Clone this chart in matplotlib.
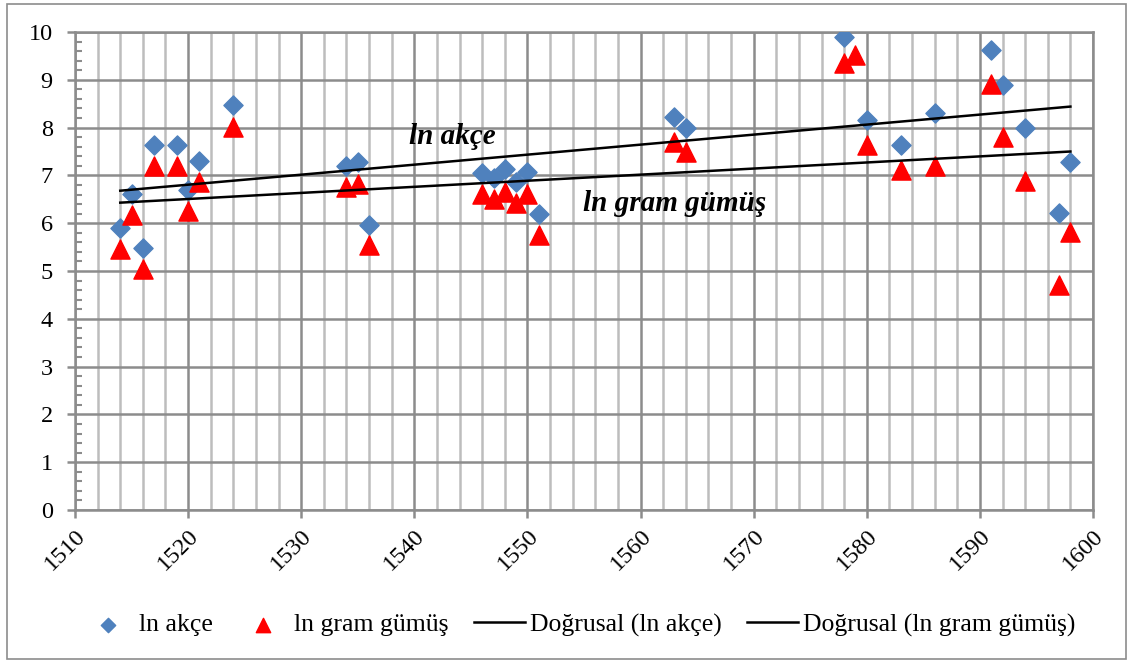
import numpy as np
import matplotlib
matplotlib.use('Agg')
import matplotlib.pyplot as plt
from matplotlib.ticker import MultipleLocator

plt.rcParams['font.family'] = ['Liberation Serif', 'DejaVu Serif']

# years and values
yil_akce = [1514, 1515, 1516, 1517, 1519, 1520, 1521, 1524, 1534, 1535, 1536,
            1546, 1547, 1548, 1549, 1550, 1551, 1563, 1564, 1578, 1580, 1583,
            1586, 1591, 1592, 1594, 1597, 1598]
ln_akce = [5.90, 6.61, 5.48, 7.64, 7.64, 6.70, 7.30, 8.47, 7.20, 7.28, 5.96,
           7.06, 6.95, 7.13, 6.87, 7.08, 6.19, 8.23, 8.00, 9.89, 8.15, 7.64,
           8.31, 9.62, 8.89, 8.00, 6.21, 7.29]

yil_gumus = [1514, 1515, 1516, 1517, 1519, 1520, 1521, 1524, 1534, 1535, 1536,
             1546, 1547, 1548, 1549, 1550, 1551, 1563, 1564, 1578, 1579, 1580,
             1583, 1586, 1591, 1592, 1594, 1597, 1598]
ln_gumus = [5.47, 6.17, 5.04, 7.20, 7.20, 6.26, 6.87, 8.02, 6.76, 6.82, 5.54,
            6.62, 6.50, 6.66, 6.43, 6.62, 5.75, 7.69, 7.48, 9.36, 9.52, 7.64,
            7.11, 7.20, 8.91, 7.80, 6.89, 4.71, 5.81]

# linear trendlines (end values)
trend_yil = [1514, 1598]
trend_akce = [6.68, 8.44]
trend_gumus = [6.43, 7.50]

fig = plt.figure(figsize=(11.33, 6.63), dpi=100)
ax = fig.add_axes([0.0662, 0.2308, 0.8985, 0.7209])

# grid
ax.xaxis.set_major_locator(MultipleLocator(10))
ax.xaxis.set_minor_locator(MultipleLocator(2))
ax.yaxis.set_major_locator(MultipleLocator(1))
ax.yaxis.set_minor_locator(MultipleLocator(0.2))
ax.grid(which='major', axis='both', color='#8c8c8c', lw=1.8, zorder=0)
ax.grid(which='minor', axis='x', color='#bdbdbd', lw=1.8, zorder=0)
ax.set_axisbelow(True)

ax.scatter(yil_akce, ln_akce, marker='D', s=95, color='#4F81BD', zorder=3,
           label='ln akçe')
ax.scatter(yil_gumus, ln_gumus, marker='^', s=190, color='#FF0000', zorder=4,
           label='ln gram gümüş')

ax.plot(trend_yil, trend_akce, color='black', lw=1.8, zorder=5,
        label='Doğrusal (ln akçe)')
ax.plot(trend_yil, trend_gumus, color='black', lw=1.8, zorder=5,
        label='Doğrusal (ln gram gümüş)')

ax.text(1543.4, 7.82, 'ln akçe', fontsize=21, fontweight='bold', style='italic',
        ha='center', va='center', zorder=6)
ax.text(1563.0, 6.42, 'ln gram gümüş', fontsize=21, fontweight='bold',
        style='italic', ha='center', va='center', zorder=6)

ax.set_xlim(1510, 1600)
ax.set_ylim(0, 10)
for s in ax.spines.values():
    s.set_color('#8c8c8c')
    s.set_linewidth(1.8)
ax.tick_params(axis='both', which='major', labelsize=17.5, color='#8c8c8c',
               width=1.8, length=6, direction='out')
ax.tick_params(axis='y', which='major', pad=10)
ax.tick_params(axis='x', which='major', pad=5)
ax.tick_params(axis='y', which='minor', color='#8c8c8c', width=1.5, length=5,
               direction='in')
ax.tick_params(axis='x', which='minor', length=0)
plt.setp(ax.get_xticklabels(), rotation=45, ha='right', rotation_mode='anchor')

ax.legend(loc='center', bbox_to_anchor=(0.495, -0.241), ncol=4, frameon=False,
          fontsize=18.5, handlelength=2.0, handletextpad=0.2, columnspacing=0.97,
          markerscale=0.75)

# outer border
fig.patches.append(plt.Rectangle((0.006, 0.006), 0.988, 0.988, fill=False,
                                 edgecolor='#8c8c8c', lw=1.2,
                                 transform=fig.transFigure))

fig.savefig('out.png', dpi=100)
